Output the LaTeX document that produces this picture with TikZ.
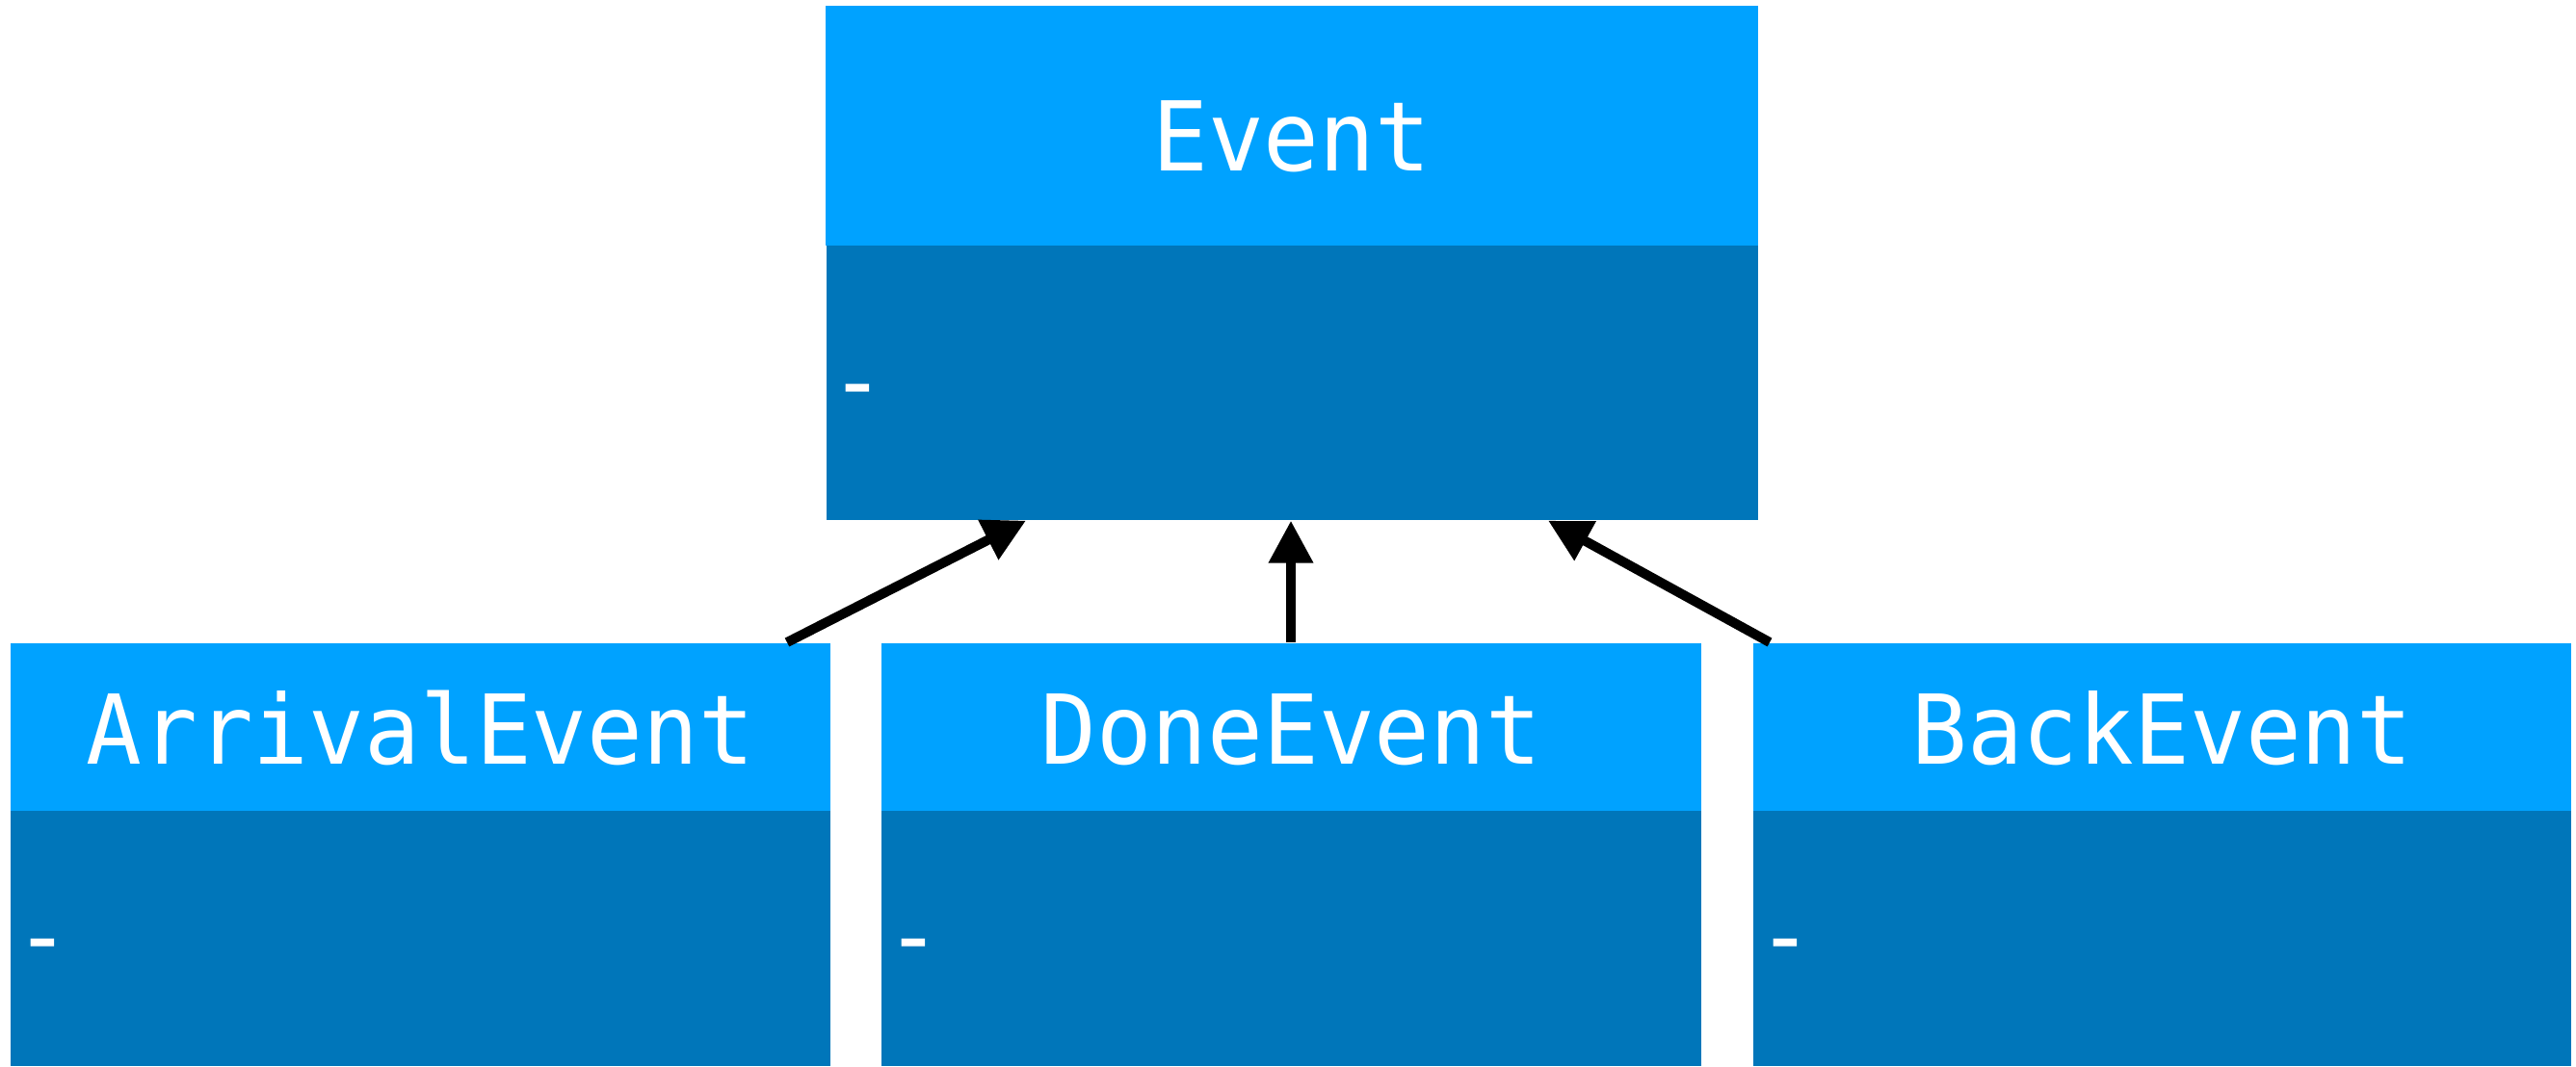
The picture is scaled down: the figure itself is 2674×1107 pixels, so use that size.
\documentclass[tikz,border=0pt]{standalone}
\usepackage{fontspec}
\newfontfamily\umlmono[FakeStretch=0.96]{DejaVu Sans Mono}
\usetikzlibrary{arrows.meta,calc}

\definecolor{headblue}{HTML}{00A2FF}
\definecolor{bodyblue}{HTML}{0076BA}

\tikzset{
  % class name compartment
  classhead/.style={draw=none, fill=headblue, text=white, inner sep=0pt,
    font=\umlmono\fontsize{25pt}{30pt}\selectfont, align=center},
  % attribute compartment
  classbody/.style={draw=none, fill=bodyblue, text=white, inner ysep=0pt,
    font=\umlmono\fontsize{25pt}{30pt}\selectfont, anchor=north west},
  inherit/.style={line width=2.5pt, -{Triangle[width=11pt,length=11pt]}},
}

\begin{document}
\begin{tikzpicture}[x=0.25pt, y=-0.25pt]
\useasboundingbox (0,0) rectangle (2674,1107);

% superclass
\node[classhead, anchor=north west, minimum width=242pt,
      text height=43pt, text depth=19.25pt, text width=242pt] (eh) at (856,5) {Event};
\node[classbody, minimum width=241.75pt, text width=239.75pt, inner xsep=1pt,
      text height=44pt, text depth=27.25pt] (eb) at (857,254) {-};

% subclasses
\node[classhead, anchor=north west, minimum width=212.75pt,
      text height=31.5pt, text depth=12pt, text width=212.75pt] (ah) at (10,667) {ArrivalEvent};
\node[classbody, minimum width=212.75pt, text width=210.25pt, inner xsep=1.25pt,
      text height=41.25pt, text depth=25pt] (ab) at (10,841) {-};

\node[classhead, anchor=north west, minimum width=212.75pt,
      text height=31.5pt, text depth=12pt, text width=212.75pt] (dh) at (914,667) {DoneEvent};
\node[classbody, minimum width=212.75pt, text width=210.25pt, inner xsep=1.25pt,
      text height=41.25pt, text depth=25pt] (db) at (914,841) {-};

\node[classhead, anchor=north west, minimum width=212.25pt,
      text height=31.5pt, text depth=12pt, text width=212.25pt] (bh) at (1819,667) {BackEvent};
\node[classbody, minimum width=212.25pt, text width=209.75pt, inner xsep=1.25pt,
      text height=41.25pt, text depth=25pt] (bb) at (1819,841) {-};

% generalisation arrows
\draw[inherit] ([xshift=201.75pt]ah.north west) -- ([xshift=52pt]eb.south west);
\draw[inherit] ([xshift=106.5pt]dh.north west) -- ([xshift=120.75pt]eb.south west);
\draw[inherit] ([xshift=4.5pt]bh.north west) -- ([xshift=187.5pt]eb.south west);
\end{tikzpicture}
\end{document}
